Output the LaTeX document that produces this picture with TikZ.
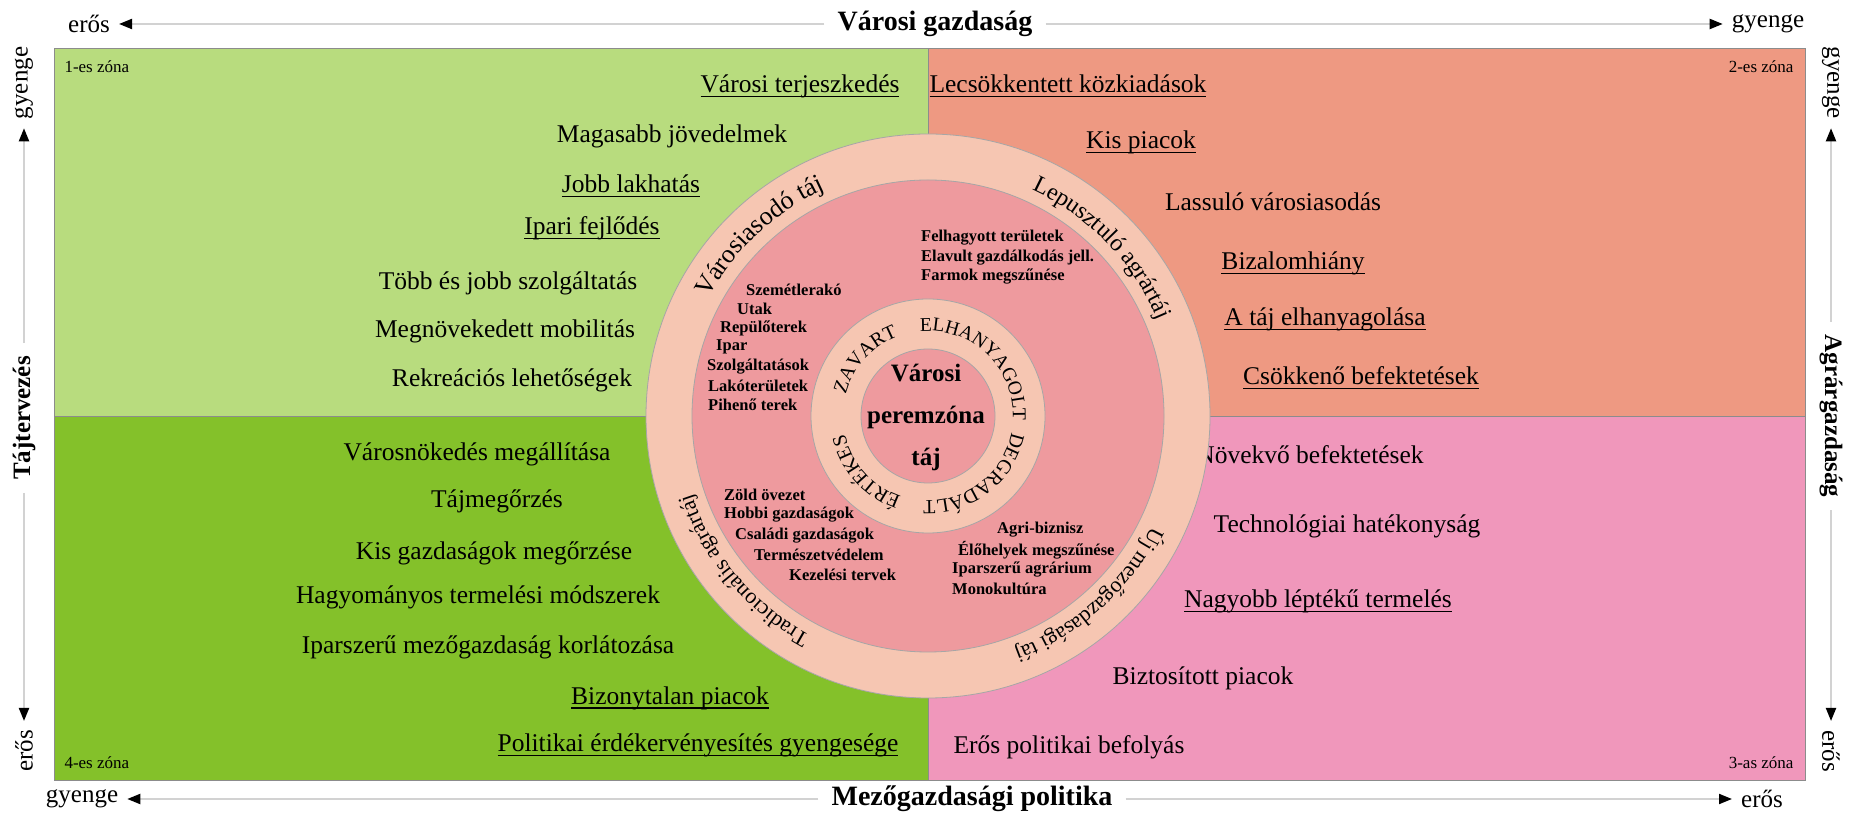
\documentclass[tikz,border=0pt]{standalone}
\usepackage{fontspec}
\setmainfont{Liberation Serif}
\usetikzlibrary{arrows.meta,decorations.text}
\definecolor{zoneA}{HTML}{B8DC7E}
\definecolor{zoneB}{HTML}{EE9982}
\definecolor{zoneC}{HTML}{84C12A}
\definecolor{zoneD}{HTML}{F097BB}
\definecolor{ringc}{HTML}{F6C6B2}
\definecolor{corec}{HTML}{EE9A9E}
\newcommand{\ulin}[1]{\setbox0\hbox{#1}\rlap{\rule[-5pt]{\wd0}{1.6pt}}\box0}
\newcommand{\ringtext}[4]{\path[decorate,decoration={text along path,text align=center,
    text={|\fontsize{#4}{#4}\selectfont|#1}}] (ctr) ++(#2:#3) arc[start angle=#2,end angle=#2-110,radius=#3];}

\begin{document}
\begin{tikzpicture}[
    x=1pt,y=1pt,
    qt/.style={font=\fontsize{25.5}{28}\selectfont},
    zn/.style={font=\fontsize{17}{18}\selectfont},
    pk/.style={font=\fontsize{16.5}{19}\selectfont\bfseries,anchor=west,inner sep=0pt},
    ends/.style={font=\fontsize{25}{27}\selectfont,inner xsep=9pt,inner ysep=1pt},
    head/.style={font=\fontsize{28}{30}\selectfont\bfseries,inner xsep=13pt,inner ysep=1pt},
    sidehead/.style={font=\fontsize{25}{27}\selectfont\bfseries,inner xsep=13pt,inner ysep=1pt},
    axisln/.style={gray!35,line width=2pt,-{Triangle[color=black,length=13pt,width=10pt]}},
    rim/.style={draw=black!35,line width=0.8pt}
    ]
    \useasboundingbox[fill=white] (0,0) rectangle (1854,813);
    \fill[zoneA] (54,397) rectangle (928,765);
    \fill[zoneB] (928,397) rectangle (1805,765);
    \fill[zoneC] (54,33) rectangle (928,397);
    \fill[zoneD] (928,33) rectangle (1805,397);
    \draw[black!45,line width=0.8pt] (54,33) rectangle (1805,765);
    \draw[black!45,line width=0.8pt] (928,33) -- (928,765) (54,397) -- (1805,397);

    \node[ends] (topW) at (89,789) {erős};
    \node[head] (topT) at (935,789) {Városi gazdaság};
    \node[ends] (topE) at (1768,789) {gyenge};
    \node[ends] (botW) at (82,14) {gyenge};
    \node[head] (botT) at (972,14) {Mezőgazdasági politika};
    \node[ends] (botE) at (1762,14) {erős};
    \node[ends,rotate=90] (lftN) at (24,730) {gyenge};
    \node[sidehead,rotate=90] (lftT) at (24,395) {Tájtervezés};
    \node[ends,rotate=90] (lftS) at (24,62) {erős};
    \node[ends,rotate=-90] (rgtN) at (1831,730) {gyenge};
    \node[sidehead,rotate=-90] (rgtT) at (1831,397) {Agrárgazdaság};
    \node[ends,rotate=-90] (rgtS) at (1831,62) {erős};
    \draw[axisln] (topT) -- (topW);
    \draw[axisln] (topT) -- (topE);
    \draw[axisln] (botT) -- (botW);
    \draw[axisln] (botT) -- (botE);
    \draw[axisln] (lftT) -- (lftN);
    \draw[axisln] (lftT) -- (lftS);
    \draw[axisln] (rgtT) -- (rgtN);
    \draw[axisln] (rgtT) -- (rgtS);

    \node[zn,anchor=west] (z1) at (61,746) {1-es zóna};
    \node[zn,anchor=east] (z2) at (1797,746) {2-es zóna};
    \node[zn,anchor=east] (z3) at (1797,50) {3-as zóna};
    \node[zn,anchor=west] (z4) at (61,50) {4-es zóna};

    \node[qt] (a1) at (800,727) {\ulin{Városi terjeszkedés}};
    \node[qt] (a2) at (672,677) {Magasabb jövedelmek};
    \node[qt] (a3) at (631,627) {\ulin{Jobb lakhatás}};
    \node[qt] (a4) at (592,585) {\ulin{Ipari fejlődés}};
    \node[qt] (a5) at (508,530) {Több és jobb szolgáltatás};
    \node[qt] (a6) at (505,482) {Megnövekedett mobilitás};
    \node[qt] (a7) at (512,433) {Rekreációs lehetőségek};

    \node[qt] (b1) at (1068,727) {\ulin{Lecsökkentett közkiadások}};
    \node[qt] (b2) at (1141,671) {\ulin{Kis piacok}};
    \node[qt] (b3) at (1273,611) {Lassuló városiasodás};
    \node[qt] (b4) at (1293,550) {\ulin{Bizalomhiány}};
    \node[qt] (b5) at (1325,494) {\ulin{A táj elhanyagolása}};
    \node[qt] (b6) at (1361,435) {\ulin{Csökkenő befektetések}};

    \node[qt] (c1) at (477,359) {Városnökedés megállítása};
    \node[qt] (c2) at (497,312) {Tájmegőrzés};
    \node[qt] (c3) at (494,260) {Kis gazdaságok megőrzése};
    \node[qt] (c4) at (478,216) {Hagyományos termelési módszerek};
    \node[qt] (c5) at (488,166) {Iparszerű mezőgazdaság korlátozása};
    \node[qt] (c6) at (670,115) {\ulin{Bizonytalan piacok}};
    \node[qt] (c7) at (698,68) {\ulin{Politikai érdékervényesítés gyengesége}};

    \node[qt] (d1) at (1310,358) {Növekvő befektetések};
    \node[qt] (d2) at (1347,287) {Technológiai hatékonyság};
    \node[qt] (d3) at (1318,212) {\ulin{Nagyobb léptékű termelés}};
    \node[qt] (d4) at (1203,135) {Biztosított piacok};
    \node[qt] (d5) at (1069,66) {Erős politikai befolyás};

    \coordinate (ctr) at (928,397);
    \fill[ringc,rim] (ctr) circle[radius=282];
    \fill[corec,rim] (ctr) circle[radius=236];
    \fill[ringc,rim] (ctr) circle[radius=117];
    \fill[corec,rim] (ctr) circle[radius=67];

    \ringtext{Városiasodó táj}{188}{249}{26}
    \ringtext{Lepusztuló agrártáj}{99}{249}{24}
    \ringtext{Tradicionális agrártáj}{275}{249}{22}
    \ringtext{Új mezőgazdasági táj}{7}{249}{22}
    \ringtext{ZAVART}{193}{85}{20}
    \ringtext{ELHANYAGOLT}{101}{85}{19.5}
    \ringtext{DEGRADÁLT}{3}{85}{20}
    \ringtext{ÉRTÉKES}{277}{85}{20}

    \node[font=\fontsize{25}{42}\selectfont\bfseries,align=center] (core) at (926,396) {Városi\\peremzóna\\táj};

    \node[pk] (u1) at (746,523) {Szemétlerakó};
    \node[pk] (u2) at (737,504) {Utak};
    \node[pk] (u3) at (720,485) {Repülőterek};
    \node[pk] (u4) at (716,466) {Ipar};
    \node[pk] (u5) at (707,446) {Szolgáltatások};
    \node[pk] (u6) at (708,427) {Lakóterületek};
    \node[pk] (u7) at (708,408) {Pihenő terek};

    \node[pk] (f1) at (921,575) {Felhagyott területek};
    \node[pk] (f2) at (921,555) {Elavult gazdálkodás jell.};
    \node[pk] (f3) at (921,536) {Farmok megszűnése};

    \node[pk] (t1) at (724,318) {Zöld övezet};
    \node[pk] (t2) at (724,298) {Hobbi gazdaságok};
    \node[pk] (t3) at (735,277) {Családi gazdaságok};
    \node[pk] (t4) at (754,258) {Természetvédelem};
    \node[pk] (t5) at (789,238) {Kezelési tervek};

    \node[pk] (m1) at (997,283) {Agri-biznisz};
    \node[pk] (m2) at (958,263) {Élőhelyek megszűnése};
    \node[pk] (m3) at (952,243) {Iparszerű agrárium};
    \node[pk] (m4) at (952,224) {Monokultúra};
  \end{tikzpicture}
\end{document}
